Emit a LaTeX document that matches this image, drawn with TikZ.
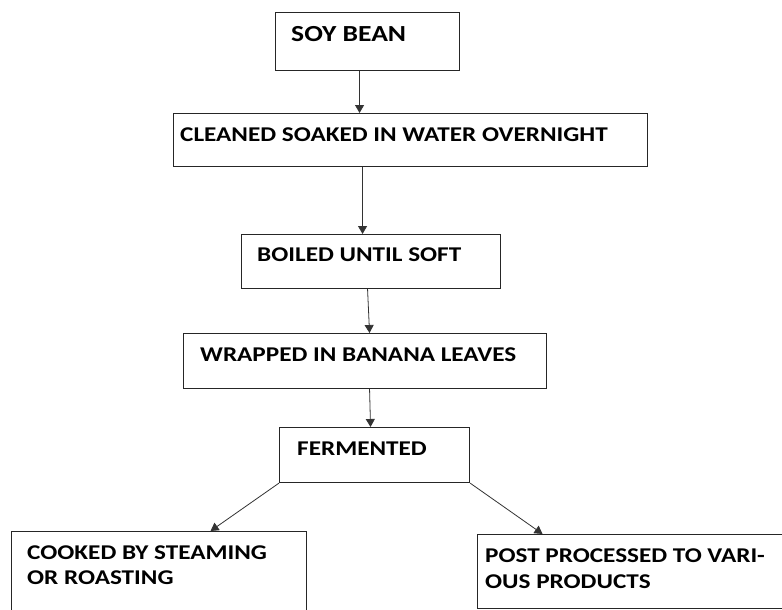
\documentclass[tikz,border=0pt]{standalone}
\usepackage{fontspec}
\setmainfont{Carlito}[FakeStretch=1.2]
\usetikzlibrary{arrows.meta}
\begin{document}
\begin{tikzpicture}[x=1pt,y=-1pt,
  box/.style={draw=black!85, line width=1.1pt, inner sep=0pt, anchor=north west},
  txt/.style={inner sep=0pt, anchor=base west, font=\fontsize{21}{25}\selectfont\bfseries, align=left},
  arr/.style={draw=black!80, line width=0.8pt, -{Triangle[length=8pt,width=9pt]}}]
\useasboundingbox (0,0) rectangle (782,610);
\clip (0,0) rectangle (782,610);
\fill[white] (0,0) rectangle (782,610);
% boxes
\node[box, minimum width=184pt, minimum height=58pt] (soy) at (275,12) {};
\node[box, minimum width=474pt, minimum height=53pt] (cleaned) at (173,113) {};
\node[box, minimum width=259pt, minimum height=54pt] (boiled) at (241,234) {};
\node[box, minimum width=363pt, minimum height=55pt] (wrapped) at (183,333) {};
\node[box, minimum width=190pt, minimum height=55pt] (fermented) at (279,427) {};
\node[box, minimum width=295pt, minimum height=90pt] (cooked) at (11,531) {};
\node[box, minimum width=313pt, minimum height=74pt] (post) at (477,534) {};
% texts
\node[txt, font=\fontsize{23}{25}\selectfont\bfseries] (soyt) at (291,41.4) {SOY BEAN};
\node[txt] (cleanedt) at (180,141.75) {CLEANED SOAKED IN WATER OVERNIGHT};
\node[txt] (boiledt) at (257,261.75) {BOILED UNTIL SOFT};
\node[txt] (wrappedt) at (200,361.75) {WRAPPED IN BANANA LEAVES};
\node[txt] (fermentedt) at (297,455.75) {FERMENTED};
\node[txt, anchor=north west] (cookedt) at (27,545.3) {COOKED BY STEAMING\\OR ROASTING};
\node[txt, anchor=north west, font=\fontsize{21}{26}\selectfont\bfseries] (postt) at (485,548.3) {POST PROCESSED TO VARI-\\OUS PRODUCTS};
% connectors
\draw[arr] ([xshift=-8pt]soy.south) -- ([xshift=-51pt]cleaned.north);
\draw[arr] ([xshift=-48pt]cleaned.south) -- ([xshift=-8.5pt]boiled.north);
\draw[arr] ([xshift=-3.5pt]boiled.south) -- ([xshift=4.5pt]wrapped.north);
\draw[arr] ([xshift=4.5pt]wrapped.south) -- ([xshift=-4pt]fermented.north);
\draw[arr] (fermented.south west) -- ([xshift=51.5pt]cooked.north);
\draw[arr] (fermented.south east) -- ([xshift=-91.5pt]post.north);
\end{tikzpicture}
\end{document}
